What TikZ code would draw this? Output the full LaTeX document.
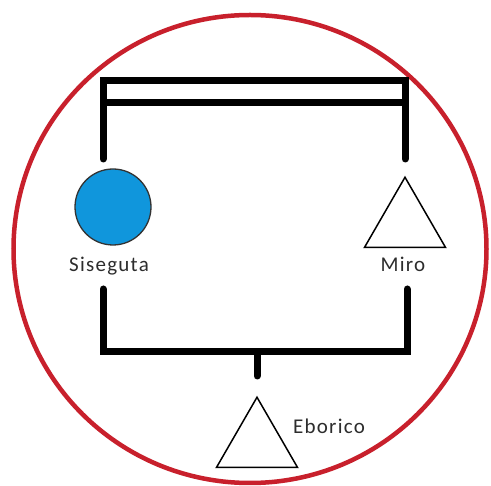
\documentclass[tikz,border=0pt]{standalone}
\usepackage{fontspec}
\setmainfont{Carlito}
\usetikzlibrary{shapes.geometric}
\definecolor{ringred}{RGB}{200,32,44}
\definecolor{femblue}{RGB}{16,150,220}
\definecolor{lbl}{RGB}{45,45,45}
\begin{document}
\begin{tikzpicture}[x=1pt,y=-1pt,
  bar/.style={line width=7pt,black},
  stub/.style={line width=7pt,black,line cap=round},
  female/.style={circle,draw=black!80,line width=1.3pt,fill=femblue,minimum size=76pt,inner sep=0pt,outer sep=0pt},
  male/.style={regular polygon,regular polygon sides=3,draw=black,line width=1.5pt,fill=white,minimum size=93.5pt,inner sep=0pt,outer sep=0pt},
  personlabel/.style={font=\fontsize{21}{24}\selectfont\addfontfeature{LetterSpace=6},text=lbl,inner sep=0pt}]
\useasboundingbox (0,0) rectangle (491,486);
\fill[white] (0,0) rectangle (491,486);
% ring
\node[draw=ringred,line width=4.5pt,ellipse,minimum width=473pt,minimum height=468pt,inner sep=0pt] (ring) at (250,249) {};
% persons
\node[female] (sis) at (113,207) {};
\node[male] (miro) at (405,224) {};
\node[male] (ebo) at (257,444) {};
\node[personlabel] (sisl) at (109,266) {Siseguta};
\node[personlabel] (mirol) at (403,264) {Miro};
\node[personlabel] (ebol) at (329,426) {Eborico};
% marriage bars
\coordinate (tl) at (103,81);
\coordinate (tr) at (405,81);
\coordinate (ml) at (103,103);
\coordinate (mr) at (405,103);
\coordinate (sl) at (103,159);
\coordinate (sr) at (405,159);
\draw[bar,line join=miter] (sl) -- (tl) -- (tr) -- (sr);
\draw[bar] (ml) -- (mr);
\draw[stub] (sl) -- ++(0,-1);
\draw[stub] (sr) -- ++(0,-1);
% children bar
\coordinate (bl) at (103,352);
\coordinate (br) at (407,352);
\coordinate (ul) at (103,289);
\coordinate (ur) at (407,289);
\coordinate (cm) at (257,352);
\coordinate (cd) at (257,376);
\draw[bar,line join=miter] (ul) -- (bl) -- (br) -- (ur);
\draw[stub] (ul) -- ++(0,1);
\draw[stub] (ur) -- ++(0,1);
\draw[stub] (cm) -- (cd);
\end{tikzpicture}
\end{document}
